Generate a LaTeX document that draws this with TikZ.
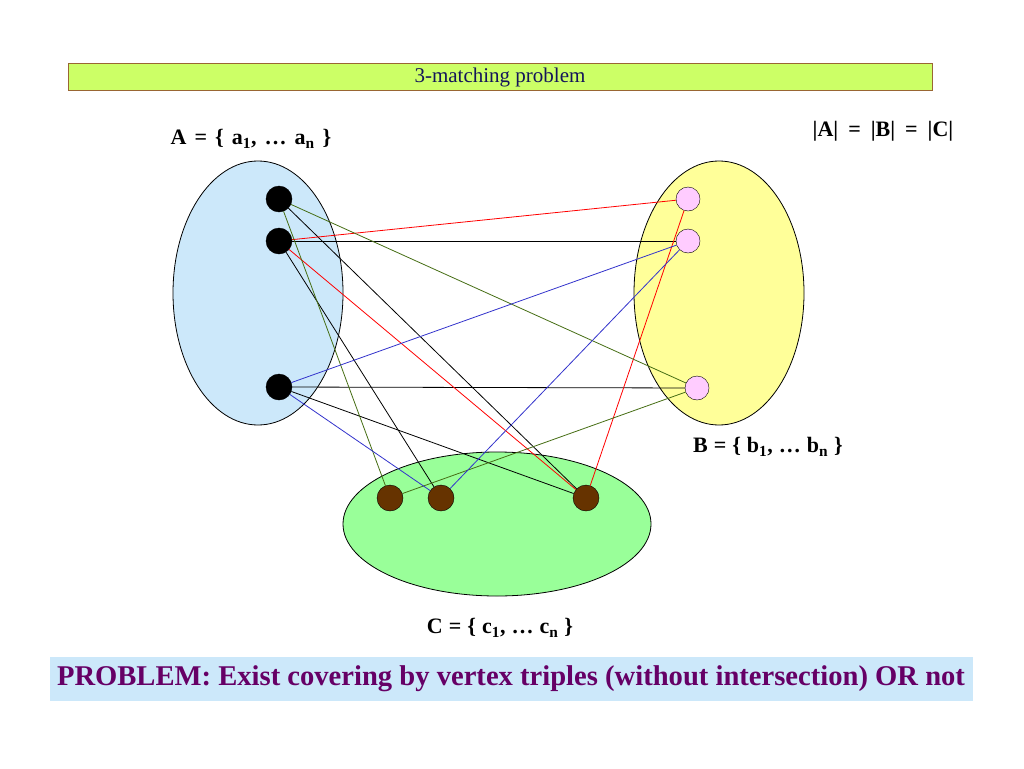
\documentclass[tikz,border=0pt]{standalone}
\usepackage{fontspec}
\setmainfont{Liberation Serif}
\definecolor{barfill}{RGB}{204,255,102}
\definecolor{barline}{RGB}{153,102,51}
\definecolor{titletext}{RGB}{20,20,90}
\definecolor{setA}{RGB}{204,232,250}
\definecolor{setB}{RGB}{255,255,153}
\definecolor{setC}{RGB}{153,255,153}
\definecolor{vertB}{RGB}{255,204,255}
\definecolor{vertC}{RGB}{102,51,0}
\definecolor{edgegreen}{RGB}{70,110,20}
\definecolor{edgeblue}{RGB}{51,51,204}
\definecolor{probfill}{RGB}{204,232,250}
\definecolor{probtext}{RGB}{102,0,102}
\tikzset{
  vertex/.style={circle, draw=black, inner sep=0pt, minimum size=#1},
  setlabel/.style={inner sep=0pt, font=\bfseries\fontsize{#1}{#1}\selectfont},
  wordgap/.style={execute at begin node={\spaceskip=#1\relax}},
}
\begin{document}
\begin{tikzpicture}[x=1pt, y=-1pt]
  \useasboundingbox[fill=white] (0,0) rectangle (1024,768);
  % title bar
  \node[draw=barline, fill=barfill, minimum width=864, minimum height=27, inner sep=0pt,
    text=titletext, font=\fontsize{21}{22}\selectfont] (title) at (500,77) {3-matching problem};
  % the three sets
  \draw[fill=setA, line width=0.8pt] (258,293) ellipse [x radius=85, y radius=132];
  \draw[fill=setB, line width=0.8pt] (719,293) ellipse [x radius=85, y radius=132];
  \draw[fill=setC, line width=0.8pt] (497,524) ellipse [x radius=154, y radius=72];
  % vertices
  \foreach \n/\x/\y in {a1/279/199, a2/279/241, a3/279/387}
    \node[vertex=26, fill=black] (\n) at (\x,\y) {};
  \foreach \n/\x/\y in {b1/688/199, b2/688/241, b3/697/388}
    \node[vertex=24, fill=vertB] (\n) at (\x,\y) {};
  \foreach \n/\x/\y in {c1/390/498, c2/441/498, c3/586/498}
    \node[vertex=26, fill=vertC] (\n) at (\x,\y) {};
  % edges
  \foreach \u/\v/\c in {
    a1/c3/black, a2/b2/black, a2/c2/black, a3/b3/black, a3/c3/black,
    a2/b1/red, a2/c3/red, c3/b1/red,
    a1/b3/edgegreen, a1/c1/edgegreen, c1/b3/edgegreen,
    a3/b2/edgeblue, a3/c2/edgeblue, c2/b2/edgeblue} {
    \draw[\c, line width=0.8pt] (\u) -- (\v);
  }
  % labels
  \node[setlabel=22, wordgap=8pt] (labA) at (251,139) {A = \{ a\textsubscript{1}, … a\textsubscript{n} \}};
  \node[setlabel=22, wordgap=6pt] (labB) at (768,447) {B = \{ b\textsubscript{1}, … b\textsubscript{n} \}};
  \node[setlabel=22, wordgap=6pt] (labC) at (500,628) {C = \{ c\textsubscript{1}, … c\textsubscript{n} \}};
  \node[setlabel=22, wordgap=10pt] (card) at (883,131) {|A| = |B| = |C|};
  % problem statement
  \node[fill=probfill, minimum width=923, minimum height=44, inner sep=0pt, text=probtext,
    font=\bfseries\fontsize{28.6}{30}\selectfont] (prob) at (511,679)
    {PROBLEM: Exist covering by vertex triples (without intersection) OR not};
\end{tikzpicture}
\end{document}
